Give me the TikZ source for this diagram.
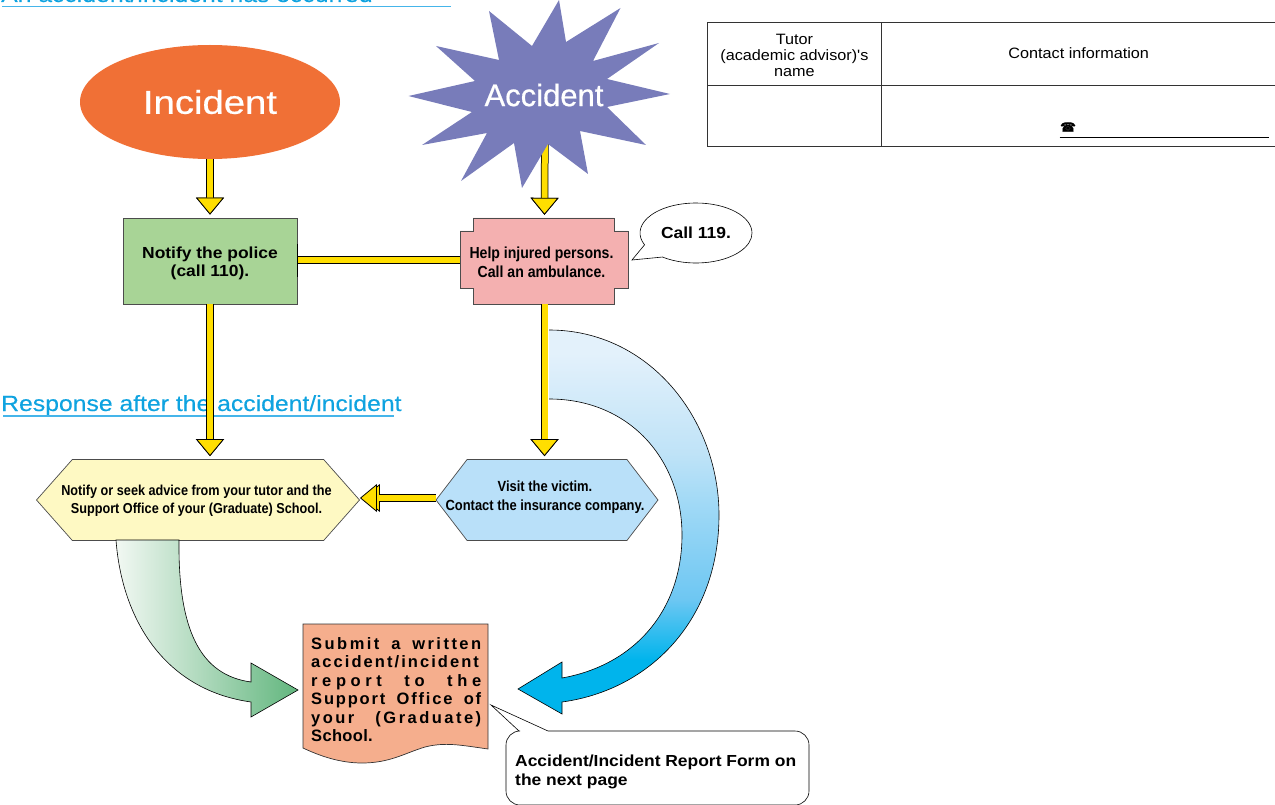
\documentclass[tikz,border=0pt]{standalone}
\usepackage{fontspec}
\setmainfont{Liberation Sans}
\newfontfamily\widefont[FakeStretch=1.125,FakeBold=0.3]{Liberation Sans}
\newfontfamily\boldwide[FakeStretch=1.09]{Liberation Sans}
\newfontfamily\tablefont[FakeStretch=1.08]{Liberation Sans}
\newfontfamily\narrowfont[FakeStretch=0.88]{Liberation Sans}
\newfontfamily\bannerfont[FakeBold=0.6]{Liberation Sans}
\newfontfamily\bannerwide[FakeStretch=1.16,FakeBold=0.6]{Liberation Sans}
\newfontfamily\symbolfont[FakeBold=0.5]{DejaVu Sans}
\usetikzlibrary{positioning,backgrounds,arrows.meta,shapes.geometric,shapes.symbols,shapes.callouts}
\definecolor{incidentc}{HTML}{F07036}
\definecolor{accidentc}{HTML}{787CBA}
\definecolor{policec}{HTML}{A8D496}
\definecolor{helpc}{HTML}{F4B0B0}
\definecolor{advicec}{HTML}{FEF9C3}
\definecolor{visitc}{HTML}{B9E0F9}
\definecolor{reportc}{HTML}{F5AE8D}
\definecolor{goldc}{HTML}{FFDE00}
\definecolor{headc}{HTML}{0FA3E0}
\definecolor{rulec}{HTML}{45B5EA}
\definecolor{bluedeep}{HTML}{00B4EC}
\definecolor{greendeep}{HTML}{62B67E}
\definecolor{greenpale}{HTML}{F2F8F3}
\pgfdeclareverticalshading{bluefade}{100bp}{color(0bp)=(bluedeep); color(32bp)=(bluedeep); rgb(40bp)=(.43,.78,.95); rgb(53bp)=(.64,.855,.965); rgb(59bp)=(.75,.89,.97); rgb(72bp)=(.89,.945,.985); rgb(100bp)=(.89,.945,.985)}
\tikzset{
	yellowarrow/.style={draw=goldc, line width=6pt, shorten >=3pt, -{Triangle[length=17pt,width=28pt,line width=.8pt,fill=goldc,color=black]},
		preaction={draw=black, line width=7.5pt, shorten >=3pt, -{Triangle[length=17pt,width=28pt,line width=.8pt,fill=goldc,color=black]}}},
	heading/.style={text=headc, anchor=base west, inner sep=0pt, font=\widefont\fontsize{22}{26}\selectfont},
	headrule/.style={draw=rulec, line width=1.6pt},
	boldlabel/.style={font=\boldwide\bfseries\fontsize{16}{18.5}\selectfont, align=center},
	narrowlabel/.style={font=\narrowfont\bfseries\fontsize{16}{18.5}\selectfont, align=center},
	hexbox/.style={draw=black!70, line width=.7pt, shape=signal, signal to=west and east, minimum height=81pt, inner sep=0pt},
	tablecell/.style={draw=black!80, line width=.7pt, inner sep=0pt, outer sep=0pt, align=center, font=\tablefont\fontsize{15}{15.7}\selectfont},
	outline/.style={draw=black, line width=.6pt},
}
\newcommand{\fitline}[2]{\makebox[170pt][s]{\addfontfeature{LetterSpace=#1}#2}}
\begin{document}
\begin{tikzpicture}[x=1pt,y=-1pt]
		\useasboundingbox (0,0) rectangle (1275,805) ;
		% Headings
		\node[heading] (HeadOne) at (1,2) {An accident/incident has occurred} ;
		\node[heading] (HeadTwo) at (1,411) {Response after the accident/incident} ;
		\draw[headrule] (2,6.5) -- (451,6.5) ;
		\draw[headrule] (3,416) -- (394,416) ;
		% Starburst behind its label
		\fill[accidentc] (559,0) -- (566,42) -- (620.5,8) -- (593,61) -- (659,43) -- (607,79) -- (670,94) -- (607,107)
			-- (646,145) -- (580,131) -- (588,174) -- (548,144) -- (522,188) -- (514,143) -- (461,181) -- (487,133)
			-- (422,145) -- (472,112) -- (408.5,96) -- (475,81) -- (436,46) -- (499,60) -- (489,11) -- (532,46) -- cycle ;
		% Top row
		\node[ellipse, fill=incidentc, minimum width=260pt, minimum height=114pt, inner sep=0pt, text=white, font=\bannerwide\fontsize{33}{36}\selectfont] (Incident) at (210,102) {\raisebox{-1.5pt}{Incident}} ;
		\node[text=white, inner sep=0pt, font=\bannerfont\fontsize{31}{34}\selectfont] (Accident) at (544,95) {Accident} ;
		% Second row
		\node[draw=black!70, line width=.8pt, fill=policec, minimum width=174pt, minimum height=86pt, boldlabel] (Police) at (210,261) {\rule{0pt}{16.5pt}Notify the police\\(call 110).} ;
		\fill[helpc] (473,218) -- (614,218) -- (614,231) -- (628,231) -- (628,288) -- (614,288) -- (614,304) -- (473,304) -- (473,288) -- (460,288) -- (460,231) -- (473,231) -- cycle ;
		\draw[black!70, line width=.8pt] (473,218) -- (614,218) -- (614,231) -- (628,231) -- (628,288) -- (614,288) -- (614,304) -- (473,304) -- (473,288) -- (460,288) -- (460,231) -- (473,231) -- cycle ;
		\node[minimum width=163pt, minimum height=86pt, inner sep=0pt, narrowlabel] (Help) at (541.5,261) {\rule{0pt}{14.5pt}Help injured persons.\\Call an ambulance.} ;
		\node[ellipse callout, outline, fill=white, minimum width=112pt, minimum height=60pt, inner sep=0pt, callout absolute pointer={(632,260)}, callout pointer arc=30, boldlabel] (CallHelp) at (696,233) {Call 119.} ;
		% Blue curved arrow goes under the yellow one
		\draw[outline, shade, shading=bluefade] (549,330) .. controls (650,330) and (719,420) .. (719,515) .. controls (719,620) and (650,690) .. (562,702)
			-- (562,714) -- (518,689) -- (562,662) -- (562,678) .. controls (635,665) and (682,610) .. (682,535) .. controls (682,460) and (630,399) .. (549,399) ;
		% Third row
		\node[hexbox, fill=advicec, signal pointer angle=97, minimum width=323pt, label={[narrowlabel, font=\narrowfont\bfseries\fontsize{14.4}{18.5}\selectfont, xshift=-1.5pt, yshift=-1pt]center:{Notify or seek advice from your tutor and the\\Support Office of your (Graduate) School.}}] (Advice) at (198,500) {} ;
		\node[hexbox, fill=visitc, signal pointer angle=105, minimum width=222pt, label={[narrowlabel, font=\narrowfont\bfseries\fontsize{14.7}{19}\selectfont, xshift=-2pt, yshift=3pt]center:{Visit the victim.\\Contact the insurance company.}}] (Visit) at (547,500) {} ;
		% Green curved arrow
		\draw[outline, shade, shading angle=130, left color=greenpale, right color=greendeep] (116,540) .. controls (122,620) and (165,690) .. (251,702)
			-- (251,717) -- (298,690) -- (251,663) -- (251,682) .. controls (200,675) and (178,630) .. (179,540) -- cycle ;
		% Report sheet
		\draw[draw=black!80, line width=.7pt, fill=reportc] (303,624) -- (488,624) -- (488,749) .. controls (460,745) and (445,742) .. (425,747) .. controls (405,753) and (390,763) .. (362,763) .. controls (340,763) and (320,756) .. (303,748) -- cycle ;
		\node[inner sep=0pt, anchor=north west, align=left, font=\bfseries\fontsize{16.5}{18.5}\selectfont] (Report) at (311,637) {\fitline{15}{Submit a written}\\\fitline{12.5}{accident/incident}\\\fitline{28}{report to the}\\\fitline{11}{Support Office of}\\\fitline{15}{your (Graduate)}\\\addfontfeature{LetterSpace=2}School.} ;
		% Form callout
		\coordinate (FormTip) at (491,705) ;
		\draw[outline, fill=white] (519,731) -- (FormTip) -- (548,731) [rounded corners=14pt] -- (809,731) -- (809,805) -- (506,805) -- (506,731) [sharp corners] -- (519,731) -- cycle ;
		\node[inner sep=0pt, anchor=north west, boldlabel, align=left] (Form) at (515,755) {Accident/Incident Report Form on\\the next page} ;
		% Contact table
		\node[tablecell, minimum width=174.6pt, minimum height=63pt] (TutorHead) at (794.4,53.5) {\rule{0pt}{14pt}Tutor\\(academic advisor)'s\\name} ;
		\node[tablecell, minimum width=394pt, minimum height=63pt, right=0pt of TutorHead] (ContactHead) {\raisebox{-1pt}{Contact information}} ;
		\node[tablecell, minimum width=174.6pt, minimum height=61.5pt, below=0pt of TutorHead] (TutorCell) {} ;
		\node[tablecell, minimum width=394pt, minimum height=61.5pt, below=0pt of ContactHead] (ContactCell) {} ;
		\node[inner sep=0pt, font=\symbolfont\fontsize{13}{15}\selectfont] (Phone) at (1068,127) {☎} ;
		\coordinate (PhoneEnd) at (1269,137.5) ;
		\draw[line width=.8pt] (Phone.west |- PhoneEnd) -- (PhoneEnd) ;
		% Yellow connectors
		\draw[yellowarrow] (Incident.south) -- (Police.north) ;
		\draw[yellowarrow] (Police.south) -- (Police.south |- Advice.north) ;
		\draw[yellowarrow] ([xshift=3pt]Help.south) -- ([xshift=3pt]Help.south |- Visit.north) ;
		\draw[yellowarrow, shorten >=0pt] ([yshift=2pt]Visit.west) -- ([yshift=2pt]Advice.east) ;
		\begin{scope}[on background layer]
			\draw[yellowarrow] ([xshift=1pt]Accident.south) -- ([xshift=3pt]Help.north) ;
		\end{scope}
		% Bar between the two first boxes
		\draw[draw=black, line width=7.5pt] ([yshift=1pt]Police.east) -- ([yshift=1pt]Help.west) ;
		\draw[draw=goldc, line width=6pt] ([yshift=1pt]Police.east) -- ([yshift=1pt]Help.west) ;
		\draw[line width=1.8pt] ([yshift=17pt]Police.east) -- ([yshift=-16pt]Police.east) ;
	\end{tikzpicture}
\end{document}
